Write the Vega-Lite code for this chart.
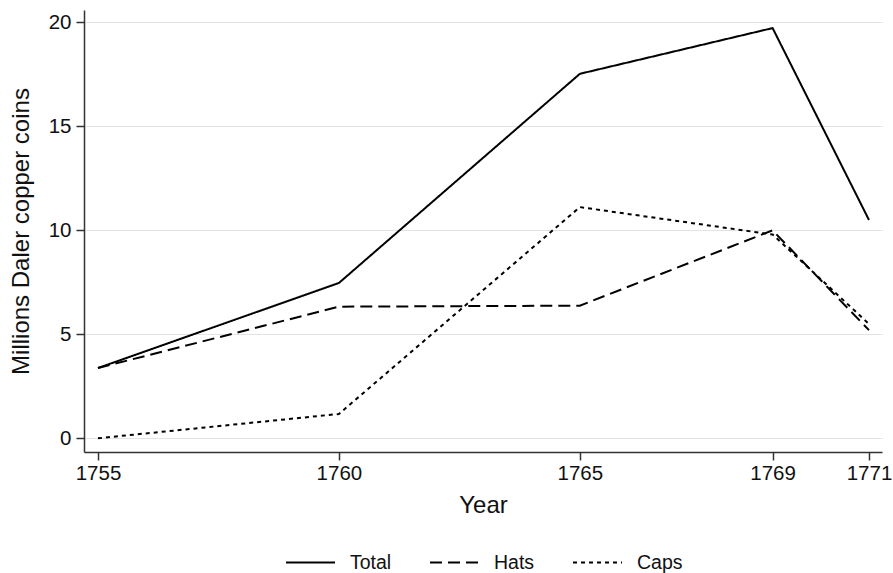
{
  "$schema": "https://vega.github.io/schema/vega-lite/v6.json",
  "width": 798,
  "height": 442,
  "autosize": {"type": "none"},
  "padding": {"left": 84, "top": 10, "right": 11, "bottom": 121},
  "background": "white",
  "config": {
    "font": "Liberation Sans",
    "view": {"stroke": null},
    "axis": {"labelFont": "Liberation Sans", "titleFont": "Liberation Sans", "labelColor": "#111", "titleColor": "#111", "domainColor": "#333", "tickColor": "#333", "domainWidth": 1.5, "tickWidth": 1.5, "gridColor": "#e3e3e3", "gridWidth": 1}
  },
  "data": {
    "values": [
      {"Year": 1755, "series": "Total", "value": 3.38},
      {"Year": 1760, "series": "Total", "value": 7.47},
      {"Year": 1765, "series": "Total", "value": 17.53},
      {"Year": 1769, "series": "Total", "value": 19.73},
      {"Year": 1771, "series": "Total", "value": 10.5},
      {"Year": 1755, "series": "Hats", "value": 3.38},
      {"Year": 1760, "series": "Hats", "value": 6.33},
      {"Year": 1765, "series": "Hats", "value": 6.38},
      {"Year": 1769, "series": "Hats", "value": 10.0},
      {"Year": 1771, "series": "Hats", "value": 5.2},
      {"Year": 1755, "series": "Caps", "value": 0},
      {"Year": 1760, "series": "Caps", "value": 1.17},
      {"Year": 1765, "series": "Caps", "value": 11.12},
      {"Year": 1769, "series": "Caps", "value": 9.8},
      {"Year": 1771, "series": "Caps", "value": 5.5}
    ]
  },
  "mark": {"type": "line", "color": "black", "strokeWidth": 2},
  "encoding": {
    "x": {
      "field": "Year", "type": "quantitative",
      "scale": {"domain": [1754.71, 1771.27], "nice": false, "zero": false},
      "axis": {"values": [1755, 1760, 1765, 1769, 1771], "format": "d", "grid": false, "labelFontSize": 20.5, "titleFontSize": 24, "titleFontWeight": "normal", "tickSize": 8, "labelPadding": 3, "titlePadding": 10, "title": "Year"}
    },
    "y": {
      "field": "value", "type": "quantitative",
      "scale": {"domain": [-0.66, 20.6], "nice": false, "zero": false},
      "axis": {"values": [0, 5, 10, 15, 20], "grid": true, "labelFontSize": 20.5, "titleFontSize": 24, "titleFontWeight": "normal", "tickSize": 8, "labelPadding": 5, "titlePadding": 15, "title": "Millions Daler copper coins"}
    },
    "strokeDash": {
      "field": "series", "type": "nominal",
      "scale": {"domain": ["Total", "Hats", "Caps"], "range": [[1, 0], [12, 6], [4, 4]]},
      "legend": {"orient": "none", "legendX": 201, "legendY": 527, "direction": "horizontal", "title": null, "symbolType": "stroke", "symbolSize": 2400, "symbolStrokeWidth": 2, "symbolStrokeColor": "black", "labelFontSize": 19.5, "labelColor": "#111", "labelOffset": 14, "columnPadding": 34}
    }
  }
}
